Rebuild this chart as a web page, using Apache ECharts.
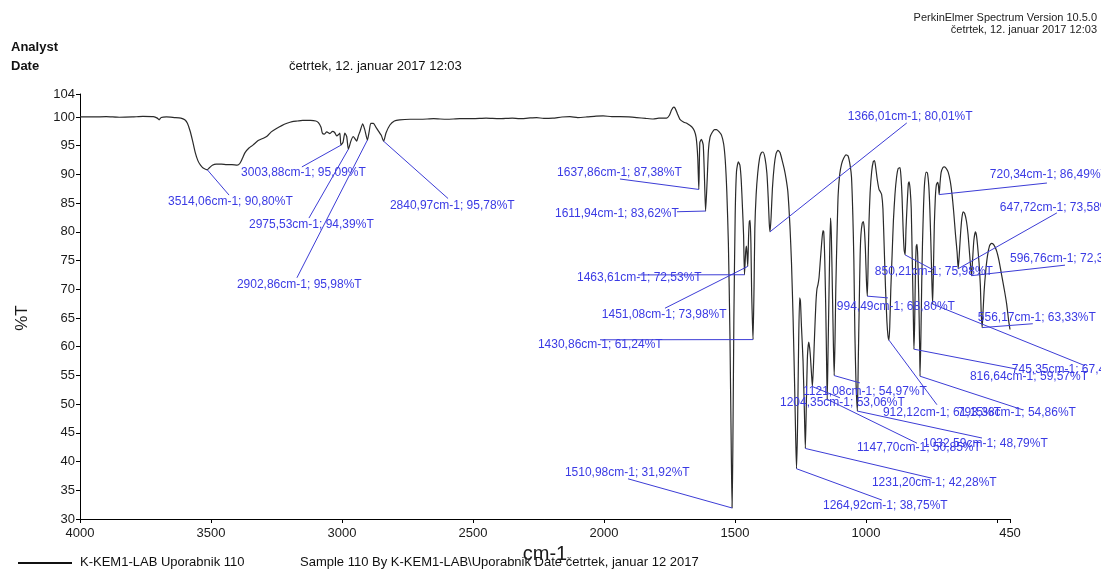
<!DOCTYPE html>
<html>
<head>
<meta charset="utf-8">
<script src="https://cdn.jsdelivr.net/npm/echarts@6/dist/echarts.min.js"></script>
<style>
  html, body { margin: 0; padding: 0; background: #ffffff; }
  #chart { width: 1101px; height: 570px; }
</style>
</head>
<body>
<div id="chart"></div>
<script>
// Recorded spectrum: [wavenumber (cm-1), transmittance (%T)]
const spectrumTrace = [
  [4000,100.0],[3950,100.0],[3900,100.05],[3850,99.95],[3800,100.0],[3760,100.1],[3720,100.05],
  [3705,99.8],[3698,99.5],[3690,99.9],[3670,100.0],[3640,99.9],[3615,99.8],[3600,99.5],[3590,98.9],
  [3580,97.6],[3570,95.8],[3560,93.8],[3550,92.4],[3540,91.6],[3530,91.1],
  [3505,91.2],[3495,91.6],[3480,91.8],[3460,91.8],[3440,91.7],[3420,91.7],[3400,91.6],[3390,91.9],
  [3380,92.8],[3370,93.8],[3355,94.6],[3340,95.1],[3320,95.9],[3300,96.3],[3285,96.7],[3270,97.4],
  [3250,98.0],[3230,98.5],[3210,98.9],[3190,99.2],[3170,99.3],[3150,99.4],[3120,99.4],[3100,99.3],
  [3090,99.0],[3080,98.2],[3075,97.2],[3068,97.0],[3058,97.4],[3046,97.1],[3036,97.5],[3028,97.3],
  [3020,96.7],[3012,97.0],[3008,97.2],
  [2996,95.6],[2989,97.2],[2982,96.6],
  [2966,95.8],[2957,96.6],[2950,96.2],[2944,95.8],[2937,96.8],[2931,97.5],[2921,98.8],[2913,97.8],
  [2896,97.5],[2890,98.9],[2880,98.9],[2870,98.2],[2860,97.5],[2850,96.8],
  [2832,97.2],[2817,98.6],[2800,99.3],[2780,99.5],[2740,99.6],[2700,99.6],[2650,99.7],[2600,99.6],
  [2550,99.7],[2500,99.7],[2450,99.8],[2400,99.7],[2350,99.8],[2323,99.7],[2290,99.8],[2257,99.9],
  [2230,99.75],[2195,99.8],[2160,100.0],[2130,100.05],[2100,99.9],[2066,100.0],[2030,100.15],
  [2003,100.2],[1970,100.05],[1939,100.05],[1905,100.0],[1875,99.9],[1840,99.75],[1812,99.65],
  [1790,99.8],[1761,99.8],[1750,100.3],[1742,101.2],[1734,101.7],[1728,101.5],[1720,100.6],
  [1710,99.6],[1695,99.1],[1684,98.9],[1665,98.3],[1655,97.6],[1648,96.4],[1642,93.0],
  [1634,95.5],[1628,96.1],[1621,95.1],[1616,89.0],
  [1606,89.0],[1601,94.3],[1595,96.5],[1587,97.3],[1578,97.8],[1570,97.8],[1560,97.4],[1551,96.8],
  [1543,95.3],[1537,92.5],[1531,87.0],[1525,78.0],[1519,62.0],[1514,42.0],
  [1508,42.0],[1504,65.0],[1499,83.0],[1494,90.5],[1487,92.2],[1481,91.6],[1476,89.0],[1471,84.0],
  [1467,79.5],
  [1459,76.5],[1456,77.5],[1454,76.3],
  [1448,79.0],[1445,81.8],[1442,82.0],[1439,78.0],[1436,69.0],[1433,64.0],
  [1427,70.5],[1424,80.6],[1419,86.5],[1413,90.2],[1406,92.8],[1400,93.7],[1393,93.9],[1385,92.8],
  [1378,90.2],[1373,86.0],[1369,81.5],
  [1362,82.5],[1357,87.5],[1350,91.5],[1343,93.6],[1336,94.2],[1328,93.8],[1320,92.5],[1312,91.0],
  [1305,89.3],[1298,87.0],[1290,81.0],[1284,74.5],[1278,65.0],[1272,53.0],[1268,44.0],
  [1261,46.0],[1257,60.0],[1253,68.5],[1250,68.0],[1246,63.5],[1240,57.5],[1235,49.0],
  [1227,51.0],[1223,58.5],[1218,60.8],[1213,59.0],[1208,55.5],
  [1200,57.0],[1196,62.0],[1191,67.5],[1187,70.0],[1183,70.8],[1179,72.0],[1174,75.0],[1169,78.0],
  [1164,80.2],[1161,80.0],[1157,75.0],[1153,66.0],[1150,57.0],
  [1145,58.0],[1141,69.0],[1138,77.0],[1135,82.4],[1132,79.5],[1128,70.0],[1124,60.0],
  [1118,61.0],[1115,70.0],[1110,80.0],[1106,86.4],[1100,90.0],[1093,91.8],[1085,92.8],[1076,93.4],
  [1068,93.2],[1060,91.5],[1055,89.5],[1050,83.0],[1046,75.0],[1042,62.0],[1038,54.0],
  [1029,58.0],[1026,66.0],[1022,76.0],[1019,79.5],[1014,81.5],[1010,81.8],[1006,80.5],[1002,77.0],
  [998,71.5],
  [991,76.0],[988,82.0],[984,86.8],[978,90.5],[972,92.2],[967,92.4],[962,91.0],[957,89.2],[950,87.4],
  [945,87.0],[940,86.5],[935,84.0],[930,77.0],[925,70.0],[920,64.5],[916,62.0],
  [909,63.5],[905,70.0],[900,76.0],[895,82.0],[889,86.6],[883,89.5],[877,91.0],[870,91.2],[866,89.5],
  [862,86.0],[858,80.5],[854,76.8],
  [847,80.5],[843,84.5],[838,88.4],[835,88.7],[831,87.3],[827,84.0],[823,75.0],[820,68.0],[818,62.5],
  [814,64.0],[811,73.0],[808,77.5],[805,77.8],[802,75.5],[798,68.0],[795,60.0],
  [790,62.0],[787,71.0],[784,78.0],[780,84.5],[776,88.5],[770,90.4],[765,90.2],[760,88.0],[756,84.0],
  [752,78.0],[748,71.0],
  [742,74.0],[739,81.0],[735,86.0],[731,88.2],[726,88.6],[723,88.0],
  [717,88.5],[713,90.3],[706,91.2],[700,91.3],[693,91.0],[686,90.4],[678,88.8],[671,86.4],[665,83.5],
  [658,79.5],[652,76.5],
  [643,76.5],[639,79.5],[634,82.3],[629,83.5],[623,83.2],[616,81.8],[610,79.5],[604,76.0],[600,73.8],
  [593,75.0],[588,78.5],[582,80.0],[578,79.4],[574,77.7],[568,74.5],[563,70.5],[560,66.0],
  [553,66.0],[549,69.5],[543,73.0],[536,75.8],[528,77.6],[521,78.0],[513,77.8],[502,76.8],[492,75.0],
  [482,72.5],[472,70.0],[463,67.5],[455,64.5],[450,63.0]
];

// Picked peaks: [wavenumber (cm-1), transmittance (%T)]
const peaks = [
  [3514.06,90.80],[3003.88,95.09],[2975.53,94.39],[2902.86,95.98],[2840.97,95.78],
  [1637.86,87.38],[1611.94,83.62],[1510.98,31.92],[1463.61,72.53],[1451.08,73.98],
  [1430.86,61.24],[1366.01,80.01],[1264.92,38.75],[1231.20,42.28],[1204.35,53.06],
  [1147.70,50.85],[1121.08,54.97],[1032.59,48.79],[994.49,68.80],[912.12,61.15],
  [850.21,75.98],[816.64,59.57],[793.38,54.86],[745.35,67.42],[720.34,86.49],
  [647.72,73.58],[596.76,72.37],[556.17,63.33]
];

// Axis ticks
const xTickValues = [4000, 3500, 3000, 2500, 2000, 1500, 1000, 500, 450];
const xLabelValues = [4000, 3500, 3000, 2500, 2000, 1500, 1000, 450];
const yTickValues = [30, 35, 40, 45, 50, 55, 60, 65, 70, 75, 80, 85, 90, 95, 100, 104];

// Where each peak's annotation sits, in axis units:
// [text wavenumber, text %T, leader end wavenumber, leader end %T]
const peakLabelPlacement = [
  [3664,85.2,3431,86.4],[3385,90.25,3153,91.3],[3355,81.2,3126,82.4],[3401,70.75,3172,72.0],
  [2817,84.5,2595,85.8],[2179,90.25,1939,89.2],[2187,83.1,1721,83.5],[2149,38.0,1908,37.0],
  [2103,72.0,1870,72.5],[2008,65.5,1767,66.7],[2252,60.3,2015,61.2],[1069,100.0,844,98.96],
  [1164,32.3,939,33.3],[977,36.3,748,37.1],[1328,50.2,1099,51.1],[1034,42.4,805,43.2],
  [1240,52.1,1023,53.7],[782,43.2,557,44.1],[1111,66.9,916,68.5],[935,48.5,729,49.9],
  [966,73.0,744,73.4],[603,54.7,424,56.1],[649,48.5,401,49.0],[443,56.0,164,56.7],
  [527,89.9,309,88.5],[489,84.2,271,83.3],[450,75.4,240,74.2],[573,65.0,363,64.0]
];

// Full curve = trace + picked peak points, ordered from high to low wavenumber
const spectrum = spectrumTrace.concat(peaks).sort((a, b) => b[0] - a[0]);

const fmt = v => v.toFixed(2).replace('.', ',');
const annotationData = peaks.map((p, i) => [p[0], p[1]].concat(peakLabelPlacement[i]));

const LABEL_FONT = '"Liberation Sans", Arial, sans-serif';
const chart = echarts.init(document.getElementById('chart'), null, { renderer: 'canvas' });

chart.setOption({
  animation: false,
  backgroundColor: '#ffffff',
  grid: { left: 80, right: 91, top: 94, bottom: 51, containLabel: false },
  xAxis: {
    type: 'value',
    inverse: true,
    min: 450,
    max: 4000,
    name: 'cm-1',
    nameLocation: 'middle',
    nameGap: 19,
    nameTextStyle: { fontSize: 20, color: '#1a1a1a', fontFamily: LABEL_FONT },
    axisLine: { show: true, onZero: false, lineStyle: { color: '#000', width: 1 } },
    axisTick: { show: true, inside: false, length: 4, customValues: xTickValues, lineStyle: { color: '#000' } },
    axisLabel: { customValues: xLabelValues, formatter: v => String(v), fontSize: 13, color: '#1a1a1a', fontFamily: LABEL_FONT, margin: 8 },
    splitLine: { show: false }
  },
  yAxis: {
    type: 'value',
    min: 30,
    max: 104,
    axisLine: { show: true, onZero: false, lineStyle: { color: '#000', width: 1 } },
    axisTick: { show: true, inside: false, length: 4, customValues: yTickValues, lineStyle: { color: '#000' } },
    axisLabel: { customValues: yTickValues, formatter: v => String(v), fontSize: 13, color: '#1a1a1a', fontFamily: LABEL_FONT, margin: 5 },
    splitLine: { show: false }
  },
  series: [
    {
      type: 'line',
      data: spectrum,
      showSymbol: false,
      smooth: 0.2,
      lineStyle: { color: '#2a2a2a', width: 1.2 },
      z: 2
    },
    {
      type: 'custom',
      data: annotationData,
      clip: false,
      z: 3,
      renderItem: (params, api) => {
        const peak = api.coord([api.value(0), api.value(1)]);
        const text = api.coord([api.value(2), api.value(3)]);
        const end = api.coord([api.value(4), api.value(5)]);
        return {
          type: 'group',
          children: [
            { type: 'line', shape: { x1: peak[0], y1: peak[1], x2: end[0], y2: end[1] },
              style: { stroke: '#3c3cd6', lineWidth: 1 } },
            { type: 'text', x: text[0], y: text[1],
              style: { text: fmt(api.value(0)) + 'cm-1; ' + fmt(api.value(1)) + '%T',
                       fill: '#3a3ae4', font: '12px ' + LABEL_FONT,
                       textAlign: 'left', textVerticalAlign: 'middle' } }
          ]
        };
      }
    }
  ],
  graphic: [
    { type: 'text', x: 11, y: 47, style: { text: 'Analyst', font: 'bold 13px ' + LABEL_FONT, fill: '#111', textVerticalAlign: 'middle' } },
    { type: 'text', x: 11, y: 66, style: { text: 'Date', font: 'bold 13px ' + LABEL_FONT, fill: '#111', textVerticalAlign: 'middle' } },
    { type: 'text', x: 289, y: 66, style: { text: 'četrtek, 12. januar 2017 12:03', font: '13px ' + LABEL_FONT, fill: '#111', textVerticalAlign: 'middle' } },
    { type: 'text', x: 1097, y: 18, style: { text: 'PerkinElmer Spectrum Version 10.5.0', font: '11px ' + LABEL_FONT, fill: '#222', textAlign: 'right', textVerticalAlign: 'middle' } },
    { type: 'text', x: 1097, y: 30, style: { text: 'četrtek, 12. januar 2017 12:03', font: '11px ' + LABEL_FONT, fill: '#222', textAlign: 'right', textVerticalAlign: 'middle' } },
    { type: 'text', x: 22, y: 318, rotation: Math.PI / 2, style: { text: '%T', font: '17px ' + LABEL_FONT, fill: '#1a1a1a', textAlign: 'center', textVerticalAlign: 'middle' } },
    { type: 'line', shape: { x1: 18, y1: 563, x2: 72, y2: 563 }, style: { stroke: '#111', lineWidth: 2 } },
    { type: 'text', x: 80, y: 562, style: { text: 'K-KEM1-LAB Uporabnik 110', font: '13px ' + LABEL_FONT, fill: '#111', textVerticalAlign: 'middle' } },
    { type: 'text', x: 300, y: 562, style: { text: 'Sample 110 By K-KEM1-LAB\\Uporabnik Date četrtek, januar 12 2017', font: '13px ' + LABEL_FONT, fill: '#111', textVerticalAlign: 'middle' } }
  ]
});
</script>
</body>
</html>
